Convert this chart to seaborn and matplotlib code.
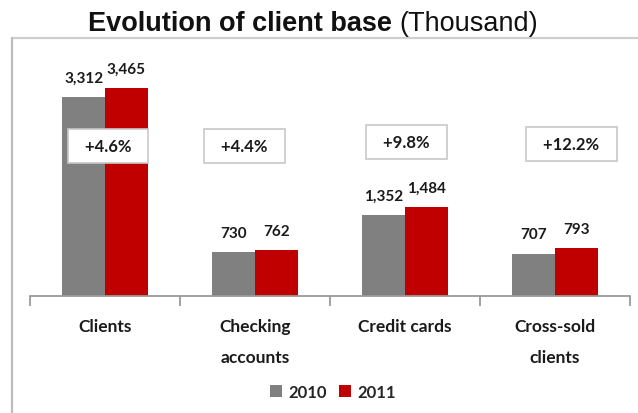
import matplotlib
matplotlib.use("Agg")
import matplotlib.pyplot as plt
import seaborn as sns
import pandas as pd
from matplotlib.lines import Line2D
from matplotlib.patches import Patch

categories = ["Clients", "Checking\naccounts", "Credit cards", "Cross-sold\nclients"]
years = ["2010", "2011"]
values_2010 = [3312, 730, 1352, 707]
values_2011 = [3465, 762, 1484, 793]
growth_labels = ["+4.6%", "+4.4%", "+9.8%", "+12.2%"]

df = pd.DataFrame({
    "category": categories * 2,
    "year": [years[0]] * 4 + [years[1]] * 4,
    "value": values_2010 + values_2011,
})

sns.set_theme(style="white")
plt.rcParams["font.family"] = ["Lato", "DejaVu Sans"]

W, H = 638, 414
fig = plt.figure(figsize=(W / 100, H / 100), dpi=100)
ax = fig.add_axes([30 / W, 1 - 297 / H, 600 / W, 237 / H])

palette = {"2010": "#808080", "2011": "#C00000"}
sns.barplot(data=df, x="category", y="value", hue="year", palette=palette,
            width=0.57, gap=0, saturation=1, ax=ax, legend=False, linewidth=0)

ax.set_ylim(0, 3950)
ax.set_xlim(-0.5, 3.5)
ax.set_xlabel("")
ax.set_ylabel("")
ax.set_yticks([])
for s in ["top", "right", "left"]:
    ax.spines[s].set_visible(False)
ax.spines["bottom"].set_color("#9a9a9a")
ax.spines["bottom"].set_linewidth(1.3)
ax.set_xticks(range(len(categories)))
ax.set_xticklabels(categories, fontsize=12.5, fontweight="bold", color="#1a1a1a",
                   linespacing=2.1, va="top")
ax.tick_params(axis="x", which="major", length=0, pad=16)
ax.set_xticks([-0.5, 0.5, 1.5, 2.5, 3.5], minor=True)
ax.tick_params(axis="x", which="minor", length=7, width=1.3, color="#9a9a9a", bottom=True)

# value labels
for cont in ax.containers:
    ax.bar_label(cont, labels=[f"{v:,.0f}" for v in cont.datavalues], padding=9,
                 fontsize=11, fontweight="bold", color="#1a1a1a")

# growth boxes
box_x = [0.02, 0.93, 2.01, 3.11]
box_y = [2500, 2500, 2566, 2533]
for x, y, t in zip(box_x, box_y, growth_labels):
    ax.text(x, y, "  " + t + "  ", ha="center", va="center", fontsize=12,
            fontweight="bold", color="#1a1a1a",
            bbox=dict(boxstyle="square,pad=0.55", fc="white", ec="#c8c8c8", lw=1.2))

# title (bold part + regular part, centred together)
TS = 19.5
ta = fig.text(0, 0, "Evolution of client base ", fontsize=TS, fontweight="bold",
              family="Liberation Sans")
tb = fig.text(0, 0, "(Thousand)", fontsize=TS, family="Liberation Sans")
fig.canvas.draw()
wa = ta.get_window_extent().width
wb = tb.get_window_extent().width
ta.remove(); tb.remove()
x0 = (W - (wa + wb)) / 2 - 6
fig.text(x0 / W, 1 - 24 / H, "Evolution of client base ", ha="left", va="center",
         fontsize=TS, fontweight="bold", family="Liberation Sans", color="#111111")
fig.text((x0 + wa) / W, 1 - 24 / H, "(Thousand)", ha="left", va="center",
         fontsize=TS, family="Liberation Sans", color="#111111")

# frame lines
fig.add_artist(Line2D([12 / W, 1], [1 - 39 / H, 1 - 39 / H], color="#cfcfcf", lw=1.6,
                      transform=fig.transFigure))
fig.add_artist(Line2D([12 / W, 12 / W], [0, 1 - 39 / H], color="#bdbdbd", lw=1.6,
                      transform=fig.transFigure))

# legend
handles = [Patch(facecolor=palette[y], edgecolor="none", label=y) for y in years]
fig.legend(handles=handles, loc="center", bbox_to_anchor=(333 / W, 1 - 393 / H),
           ncol=2, frameon=False, handlelength=0.7, handleheight=0.7,
           handletextpad=0.4, columnspacing=0.7,
           prop={"family": "Lato", "weight": "bold", "size": 12})

fig.savefig("out.png", dpi=100)
